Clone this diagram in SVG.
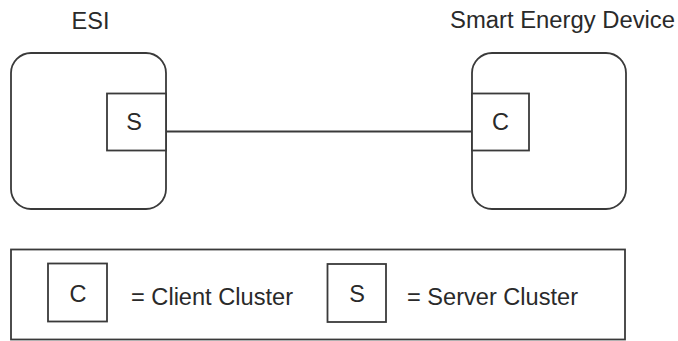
<svg xmlns="http://www.w3.org/2000/svg" width="678" height="341" viewBox="0 0 678 341">
<style>
.dev{fill:#fff;stroke:#3a3a3a;stroke-width:1.8}
.cl{fill:#fff;stroke:#3a3a3a;stroke-width:1.8}
.t{font-family:"Liberation Sans",Arial,sans-serif;fill:#2a2a2a;font-size:23.5px}
.conn{stroke:#3a3a3a;stroke-width:1.8;fill:none}
</style>
<rect width="678" height="341" fill="#fff"/>
<g id="esi">
<text class="t" x="90.5" y="29" text-anchor="middle">ESI</text>
<rect class="dev" x="11" y="53" width="155" height="156" rx="20" ry="20"/>
<g id="esi-server">
<rect class="cl" x="107" y="93.5" width="59" height="57"/>
<text class="t" x="134" y="130" text-anchor="middle">S</text>
</g>
</g>
<g id="sed">
<text class="t" x="450" y="28" textLength="225" lengthAdjust="spacingAndGlyphs">Smart Energy Device</text>
<rect class="dev" x="472" y="53" width="154" height="156" rx="20" ry="20"/>
<g id="sed-client">
<rect class="cl" x="472" y="93.5" width="57" height="57"/>
<text class="t" x="500.5" y="130" text-anchor="middle">C</text>
</g>
</g>
<g id="connectors">
<line class="conn" x1="166" y1="131.5" x2="472" y2="131.5"/>
</g>
<g id="legend">
<rect class="cl" x="11" y="249.5" width="614" height="90"/>
<rect class="cl" x="48" y="263.5" width="59" height="58"/>
<text class="t" x="78" y="302" text-anchor="middle">C</text>
<text class="t" x="131" y="305" textLength="162" lengthAdjust="spacingAndGlyphs">= Client Cluster</text>
<rect class="cl" x="327.5" y="264" width="58.5" height="58"/>
<text class="t" x="357" y="302" text-anchor="middle">S</text>
<text class="t" x="407" y="305" textLength="171" lengthAdjust="spacingAndGlyphs">= Server Cluster</text>
</g>
</svg>
